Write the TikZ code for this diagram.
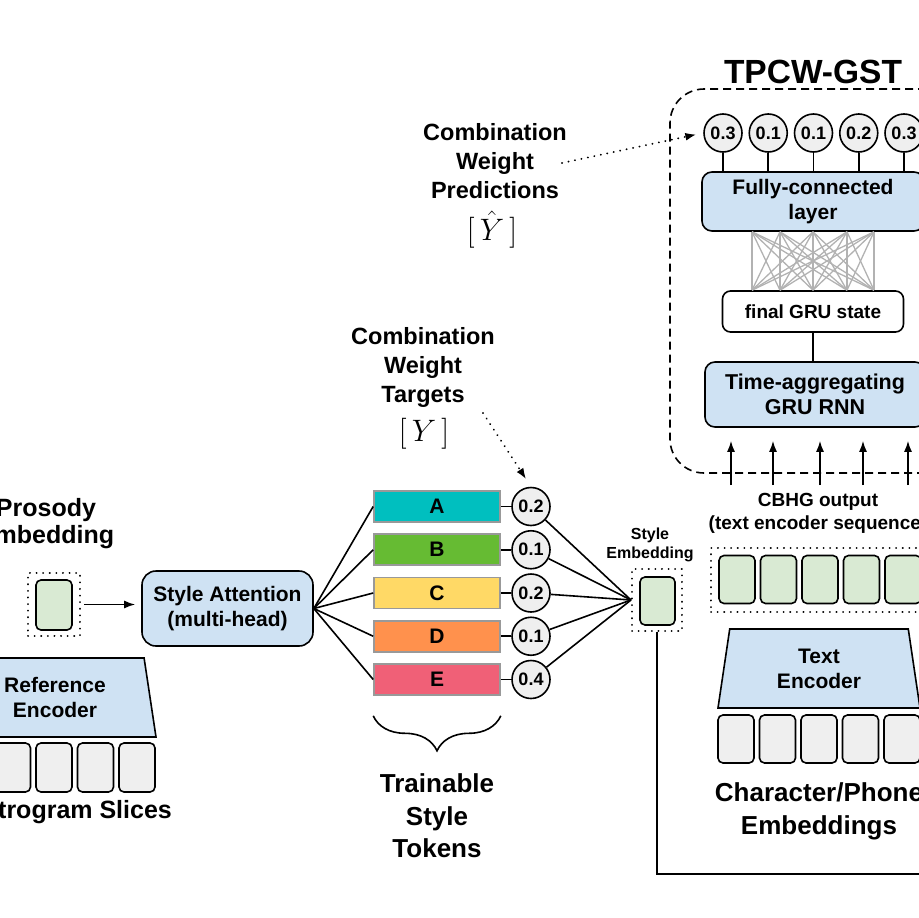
\RequirePackage{fix-cm}
\documentclass[tikz,border=0pt]{standalone}
\usepackage[no-math]{fontspec}
\setmainfont{Liberation Sans}
\usetikzlibrary{positioning,shapes.geometric,decorations.pathreplacing,arrows.meta}

\definecolor{lblue}{HTML}{CFE2F3}
\definecolor{lgreen}{HTML}{D9EAD3}
\definecolor{lgray}{HTML}{EFEFEF}
\definecolor{tokA}{HTML}{00BFBF}
\definecolor{tokB}{HTML}{66BB33}
\definecolor{tokC}{HTML}{FFD966}
\definecolor{tokD}{HTML}{FF914D}
\definecolor{tokE}{HTML}{F06077}

\begin{document}
\begin{tikzpicture}[x=1pt,y=-1pt,line width=1.6pt,on grid,
  >={Latex[length=11pt,width=8pt]},
  block/.style={draw,fill=lblue,rounded corners=10pt,align=center,font=\bfseries\fontsize{21}{25}\selectfont},
  enc/.style={draw,fill=lblue,trapezium,trapezium stretches body,trapezium angle=75.8,
    minimum width=202pt,minimum height=79pt,align=center,font=\bfseries\fontsize{21}{25}\selectfont},
  cell/.style={draw,rounded corners=5pt,minimum width=36pt,minimum height=48pt},
  token/.style={draw=gray!80,minimum width=126pt,minimum height=31pt,font=\bfseries\fontsize{21}{21}\selectfont},
  wt/.style={circle,draw,fill=lgray,minimum size=38pt,inner sep=0pt,font=\bfseries\fontsize{18}{18}\selectfont},
  dotbox/.style={line width=2pt,line cap=round,dash pattern=on 0.1pt off 6.5pt},
  lbl/.style={align=center,inner sep=0pt,font=\bfseries\fontsize{23.5}{29}\selectfont},
  mathlbl/.style={inner sep=1pt,font=\fontsize{31}{31}\selectfont}]
  \useasboundingbox (0,0) rectangle (919,918);

  % TPCW-GST branch
  \node[font=\bfseries\fontsize{33.5}{33.5}\selectfont] (title) at (813,72) {TPCW-GST};
  \node[draw,dash pattern=on 8pt off 5pt,rounded corners=34pt,minimum width=290pt,minimum height=384pt] (gst) at (815,281) {};
  \node[wt] (p1) at (723,133) {0.3};
  \node[wt,right=45.25pt of p1] (p2) {0.1};
  \node[wt,right=45.25pt of p2] (p3) {0.1};
  \node[wt,right=45.25pt of p3] (p4) {0.2};
  \node[wt,right=45.25pt of p4] (p5) {0.3};
  \node[block,minimum width=222pt,minimum height=59pt] (fc) at (813,201.5) {Fully-connected\\layer};
  \foreach \p in {p1,p2,p3,p4,p5}
    \draw (\p) -- (\p |- fc.north);
  \node[block,fill=white,rounded corners=8pt,minimum width=181pt,minimum height=41pt,
    font=\bfseries\fontsize{19}{19}\selectfont] (gru) at (813,311.5) {final GRU state};
  \foreach \a in {-61,-33,0,34,61}
    \foreach \b in {-61,-33,0,34,61}
      \draw[black!30,line width=1.3pt] ([xshift=\a pt]fc.south) -- ([xshift=\b pt]gru.north);
  \node[block,minimum width=220pt,minimum height=65pt,font=\bfseries\fontsize{21.5}{25}\selectfont] (rnn) at (815,394.5) {Time-aggregating\\GRU RNN};
  \draw (gru.south) -- (gru.south |- rnn.north);
  \foreach \x in {731,773,820,863,908} {
    \coordinate (c\x) at (\x,485);
    \draw[->,shorten >=13pt] (c\x) -- (c\x |- rnn.south);
  }
  \node[align=center,font=\bfseries\fontsize{19}{23}\selectfont] (cbhg) at (818,513.5) {CBHG output\\(text encoder sequence)};
  \node[draw,dotbox,minimum width=219pt,minimum height=64pt] (hbox) at (820.5,580) {};
  \foreach \x [count=\i] in {737,778.5,820,861.5,903}
    \node[cell,fill=lgreen] (h\i) at (\x,579.5) {};
  \node[enc] (tenc) at (819,668.5) {Text\\Encoder};
  \foreach \x [count=\i] in {736,777.5,819,860.5,902}
    \node[cell,fill=lgray] (t\i) at (\x,739) {};
  \node[align=center,font=\bfseries\fontsize{26}{33}\selectfont] (chars) at (819,811.5) {Character/Phone\\Embeddings};

  % style tokens
  \node[block,rounded corners=14pt,minimum width=171pt,minimum height=75pt] (att) at (227.5,608.5) {Style Attention\\(multi-head)};
  \node[token,fill=tokA] (A) at (437,506.5) {A};
  \node[token,fill=tokB,below=43.25pt of A] (B) {B};
  \node[token,fill=tokC,below=43.25pt of B] (C) {C};
  \node[token,fill=tokD,below=43.25pt of C] (D) {D};
  \node[token,fill=tokE,below=43.25pt of D] (E) {E};
  \node[wt,right=94pt of A] (wA) {0.2};
  \node[wt,right=94pt of B] (wB) {0.1};
  \node[wt,right=94pt of C] (wC) {0.2};
  \node[wt,right=94pt of D] (wD) {0.1};
  \node[wt,right=94pt of E] (wE) {0.4};
  \node[draw,dotbox,minimum width=50pt,minimum height=62pt] (sebox) at (657,600) {};
  \node[cell,fill=lgreen,minimum width=35pt] (se) at (657.5,601) {};
  \node[align=center,font=\bfseries\fontsize{16}{19}\selectfont] (selbl) at (650,545) {Style\\Embedding};
  \foreach \t in {A,B,C,D,E} {
    \draw (att.east) -- (\t.west);
    \draw (\t) -- (w\t);
    \draw (w\t) -- (sebox.west);
  }
  \coordinate (out) at (940,874);
  \draw (sebox.south) |- (out);
  \draw[decorate,decoration={brace,mirror,amplitude=35pt}] ([yshift=-20pt]E.south west) -- ([yshift=-20pt]E.south east);
  \node[align=center,font=\bfseries\fontsize{26}{32.5}\selectfont] (trn) at (437,816) {Trainable\\Style\\Tokens};

  % weight labels
  \node[lbl,anchor=north] (tgt) at (423,327) {Combination\\Weight\\Targets};
  \node[mathlbl] (tgty) at (424,434) {$[\,Y\,]$};
  \coordinate (tgtend) at (483,413);
  \draw[dotbox,->,shorten >=9pt] (tgtend) -- (wA.north);
  \node[lbl,anchor=north] (pred) at (495,123) {Combination\\Weight\\Predictions};
  \node[mathlbl] (predy) at (492,230) {$[\,\hat{Y}\,]$};
  \coordinate (predend) at (562,163);
  \draw[dotbox,->,shorten >=7pt] (predend) -- (p1.west);

  % reference branch
  \node[draw,dotbox,minimum width=52pt,minimum height=63pt] (pbox) at (54,604.5) {};
  \node[cell,fill=lgreen,minimum height=50pt] (pe) at (54,605) {};
  \draw[->,shorten <=3pt,shorten >=6pt] (pbox.east) -- (pbox.east -| att.west);
  \node[align=center,font=\bfseries\fontsize{25}{27}\selectfont] (plbl) at (46,523.5) {Prosody\\Embedding};
  \node[enc] (renc) at (55,697.5) {Reference\\Encoder};
  \foreach \x [count=\i] in {12.5,54,95.5,137}
    \node[cell,fill=lgray,minimum height=49pt] (r\i) at (\x,767.5) {};
  \node[anchor=east,font=\bfseries\fontsize{25}{25}\selectfont] (slices) at (176,812) {Spectrogram Slices};
\end{tikzpicture}
\end{document}
